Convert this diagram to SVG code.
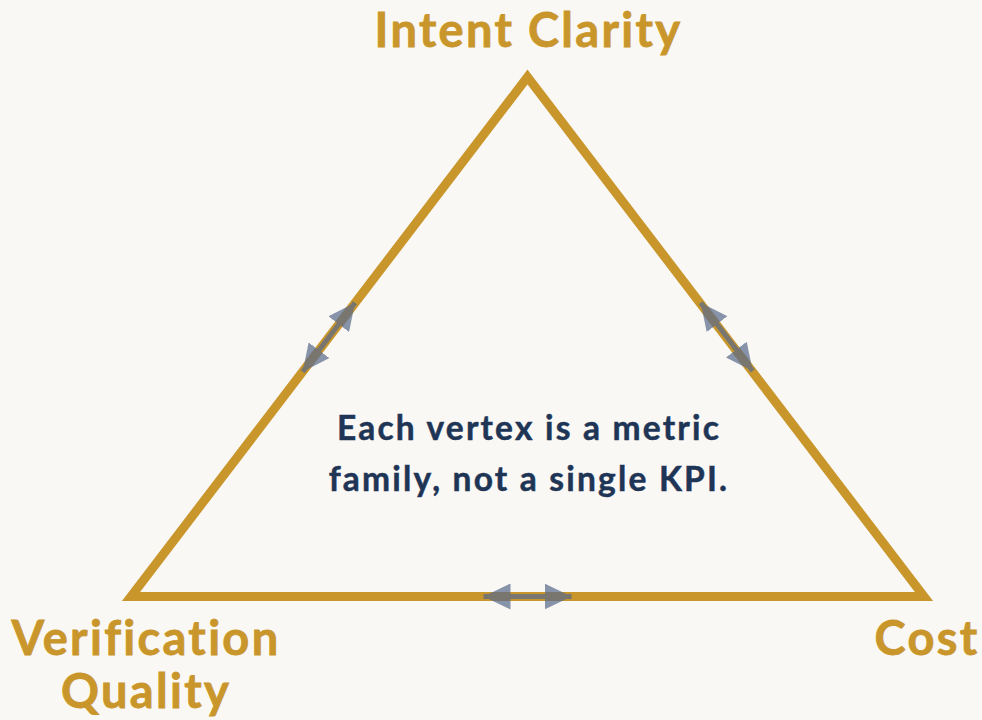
<svg xmlns="http://www.w3.org/2000/svg" width="982" height="720" viewBox="0 0 982 720">
  <style>
    .vertex { font-family: Lato, "Open Sans", "Liberation Sans", sans-serif; font-weight: 700; font-size: 47px; letter-spacing: 2.3px; fill: #C9962C; stroke: #C9962C; stroke-width: 0.8; text-anchor: middle; }
    .note { font-family: Lato, "Open Sans", "Liberation Sans", sans-serif; font-weight: 700; font-size: 33.5px; letter-spacing: 2.2px; fill: #1E3556; stroke: #1E3556; stroke-width: 0.5; text-anchor: middle; }
    .edge { fill: none; stroke: #C9962C; stroke-width: 9; stroke-linejoin: miter; stroke-miterlimit: 10; }
    .tension { opacity: 0.7; }
    .tension line { stroke: #56698A; stroke-width: 5; marker-start: url(#head); marker-end: url(#head); }
  </style>
  <defs>
    <marker id="head" viewBox="0 0 27 26" refX="27" refY="13" markerWidth="27" markerHeight="26" markerUnits="userSpaceOnUse" orient="auto-start-reverse">
      <path d="M0,0 L27,13 L0,26 Z" fill="#56698A"/>
    </marker>
  </defs>

  <rect width="982" height="720" fill="#FAF8F4"/>

  <!-- the triangle frame -->
  <g id="triangle">
    <polygon class="edge" points="527.5,77 924,596.5 131,596.5"/>
  </g>

  <!-- double-headed tension arrows at each edge midpoint -->
  <g id="connectors">
    <g class="tension"><line x1="302.7" y1="371.7" x2="355" y2="302.7"/></g>
    <g class="tension"><line x1="700.7" y1="302.7" x2="752.7" y2="371"/></g>
    <g class="tension"><line x1="483.5" y1="596.5" x2="571.5" y2="596.5"/></g>
  </g>

  <g id="intent-clarity">
    <text class="vertex" x="528.5" y="47">Intent Clarity</text>
  </g>
  <g id="verification-quality">
    <text class="vertex" x="146" y="655">Verification</text>
    <text class="vertex" x="146" y="708">Quality</text>
  </g>
  <g id="cost">
    <text class="vertex" x="927" y="655">Cost</text>
  </g>
  <g id="note">
    <text class="note" x="529" y="440">Each vertex is a metric</text>
    <text class="note" x="529" y="491">family, not a single KPI.</text>
  </g>
</svg>
